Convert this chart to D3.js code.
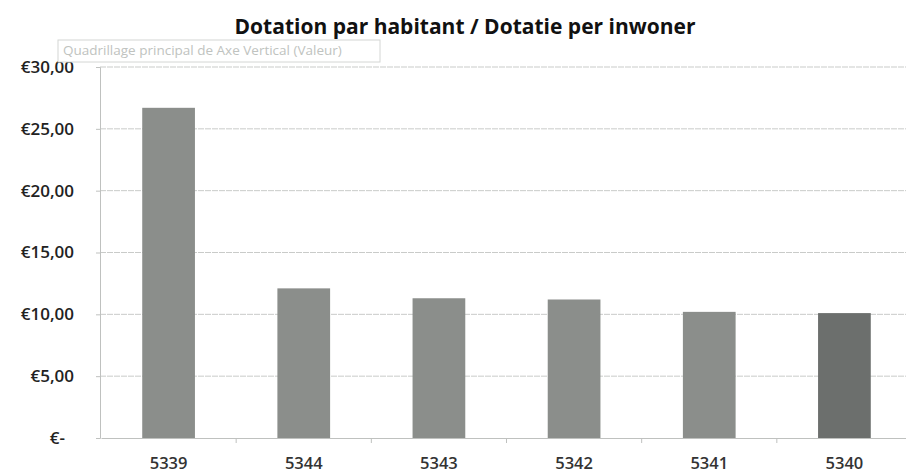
<!DOCTYPE html>
<html lang="fr">
<head>
    <meta charset="UTF-8">
    <title>Dotation par habitant</title>
    <script src="https://cdn.jsdelivr.net/npm/d3@7/dist/d3.min.js"></script>
    <style>
        body { margin: 0; background: #fff; }
        text { font-family: "Open Sans", sans-serif; }
    </style>
</head>
<body>
    <script>
        // data
        var communes = ["5339", "5344", "5343", "5342", "5341", "5340"];
        var dotation = [26.7, 12.1, 11.3, 11.2, 10.2, 10.1];
        var yTicks = [0, 5, 10, 15, 20, 25, 30];
        var barColors = ["#8b8e8b", "#8b8e8b", "#8b8e8b", "#8b8e8b", "#8b8e8b", "#6c6f6d"];

        var w = 906, h = 475;
        var svg = d3.select("body").append("svg")
            .attr("width", w)
            .attr("height", h);

        var x = d3.scaleBand()
            .domain(communes)
            .range([101, 912])
            .paddingInner(0.61)
            .paddingOuter(0.305);

        var y = d3.scaleLinear()
            .domain([0, 30])
            .range([438, 67]);

        // gridlines
        svg.append("g")
            .selectAll("line")
            .data(yTicks.filter(function (d) { return d > 0; }))
            .enter()
            .append("line")
            .attr("x1", 100)
            .attr("x2", w)
            .attr("y1", function (d) { return y(d); })
            .attr("y2", function (d) { return y(d); })
            .attr("stroke", "#c9cbc9")
            .attr("stroke-width", 1)
            .attr("stroke-dasharray", "6,1");

        // y axis
        var yAxis = d3.axisLeft(y)
            .tickValues(yTicks)
            .tickSize(4)
            .tickPadding(22)
            .tickFormat(function (d) {
                return d === 0 ? "€-" : "€" + d3.format(".2f")(d).replace(".", ",");
            });
        var gy = svg.append("g")
            .attr("transform", "translate(100,0)")
            .call(yAxis);
        gy.select(".domain").attr("stroke", "#bfc1bf");
        gy.selectAll(".tick line").attr("stroke", "#bfc1bf");
        gy.selectAll(".tick text")
            .attr("fill", "#222")
            .attr("font-size", 17)
            .attr("font-weight", 600)
            .attr("font-family", "Open Sans")
            .attr("dx", function (d) { return d === 0 ? -9 : 0; });

        // x axis
        var xAxis = d3.axisBottom(x)
            .tickSize(0)
            .tickPadding(19);
        var gx = svg.append("g")
            .attr("transform", "translate(0,438)")
            .call(xAxis);
        gx.select(".domain").attr("stroke", "#bfc1bf");
        gx.selectAll(".tick text")
            .attr("fill", "#333")
            .attr("font-size", 16.5)
            .attr("font-weight", 600)
            .attr("font-family", "Open Sans");
        // small separators between categories
        gx.selectAll("line.sep")
            .data(communes.slice(1))
            .enter()
            .append("line")
            .attr("class", "sep")
            .attr("x1", function (d) { return x(d) - x.step() * x.paddingInner() / 2; })
            .attr("x2", function (d) { return x(d) - x.step() * x.paddingInner() / 2; })
            .attr("y1", 0)
            .attr("y2", 5)
            .attr("stroke", "#bfc1bf");

        // bars
        svg.append("g")
            .selectAll("rect")
            .data(dotation)
            .enter()
            .append("rect")
            .attr("x", function (d, i) { return x(communes[i]); })
            .attr("y", function (d) { return y(d); })
            .attr("width", x.bandwidth())
            .attr("height", function (d) { return y(0) - y(d); })
            .attr("fill", function (d, i) { return barColors[i]; });

        // title
        svg.append("text")
            .attr("x", 465)
            .attr("y", 34)
            .attr("text-anchor", "middle")
            .attr("font-size", 21)
            .attr("font-weight", 700)
            .attr("fill", "#111")
            .text("Dotation par habitant / Dotatie per inwoner");

        // leftover tooltip from the spreadsheet
        var tip = svg.append("g").attr("transform", "translate(58,40)");
        tip.append("rect")
            .attr("width", 322)
            .attr("height", 22)
            .attr("fill", "#fff")
            .attr("stroke", "#d4d6d4");
        tip.append("text")
            .attr("x", 5)
            .attr("y", 15)
            .attr("font-size", 13.5)
            .attr("fill", "#c0c3c0")
            .text("Quadrillage principal de Axe Vertical (Valeur)");
    </script>
</body>
</html>
